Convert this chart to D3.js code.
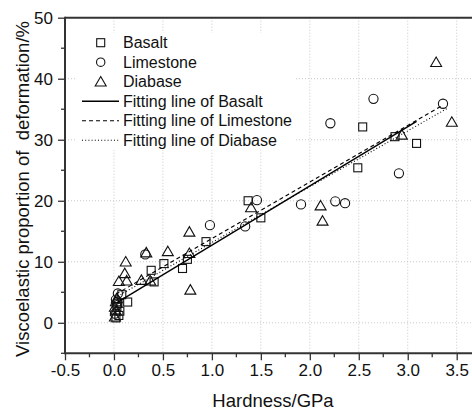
<!DOCTYPE html>
<html><head><meta charset="utf-8">
<script src="https://cdn.jsdelivr.net/npm/d3@7"></script>
<style>body{margin:0;background:#fff}svg{display:block}text{font-family:Arial,"Liberation Sans",sans-serif;fill:#111}</style>
</head><body><svg id="c" width="472" height="412"></svg>
<script>
const basalt = [[2.54,32.1],[2.87,30.5],[3.09,29.4],[2.49,25.4],[1.37,20.0],[1.50,17.2],[0.94,13.3],[0.75,10.4],[0.70,8.9],[0.51,9.7],[0.38,8.6],[0.41,6.7],[0.14,3.4],[0.08,4.6],[0.06,1.9],[0.02,0.8],[0.05,1.2],[0.03,2.6],[0.04,3.2]];
const limestone = [[2.65,36.7],[3.36,35.9],[2.21,32.7],[2.91,24.5],[1.91,19.4],[2.26,19.9],[2.36,19.6],[1.46,20.1],[1.34,15.8],[0.98,16.0],[0.32,11.2],[0.04,4.8],[0.02,3.8],[0.03,2.9],[0.01,1.5]];
const diabase = [[3.29,42.7],[3.45,32.9],[2.94,30.8],[2.11,19.2],[2.13,16.7],[1.40,18.9],[0.77,14.9],[0.77,11.4],[0.78,5.4],[0.55,11.7],[0.33,11.5],[0.12,10.0],[0.11,8.1],[0.13,6.9],[0.05,6.8],[0.28,7.0],[0.37,6.9],[0.01,1.0],[0.02,2.0],[0.01,2.6],[0.02,3.5],[0.03,4.0]];
const fitBasalt = [[0.03,3.3],[3.09,33.0]];
const fitLimestone = [[0.02,4.7],[3.34,35.5]];
const fitDiabase = [[0.01,4.1],[3.41,35.2]];
const xTicks = [-0.5,0,0.5,1,1.5,2,2.5,3,3.5];
const yTicks = [0,10,20,30,40,50];
const legendLabels = ["Basalt","Limestone","Diabase","Fitting line of Basalt","Fitting line of Limestone","Fitting line of Diabase"];
const xTitle = "Hardness/GPa";
const yTitle = "Viscoelastic proportion of\u00a0 deformation/%";

const svg = d3.select("#c");
const W = 472;
const x = d3.scaleLinear().domain([-0.5,3.5]).range([65,456.7]);
const y = d3.scaleLinear().domain([-5,50]).range([353.3,17.7]);
const axisColor = "#333";

// grid
const grid = svg.append("g").attr("stroke","#c8c8c8").attr("stroke-width",1).attr("stroke-dasharray","1,2");
xTicks.filter(v=>v>-0.5).forEach(v=>grid.append("line").attr("x1",x(v)).attr("x2",x(v)).attr("y1",y(50)).attr("y2",y(-5)));
yTicks.filter(v=>v<50).forEach(v=>grid.append("line").attr("x1",x(-0.5)).attr("x2",W).attr("y1",y(v)).attr("y2",y(v)));

// legend background
svg.append("rect").attr("x",77).attr("y",33).attr("width",218).attr("height",117).attr("fill","#fff");

// axes
const xAxis = d3.axisBottom(x).tickValues(xTicks).tickSize(7).tickPadding(4).tickFormat(d=>d3.format(".1f")(d).replace("\u2212","-"));
const gx = svg.append("g").attr("transform",`translate(0,${y(-5)})`).call(xAxis);
gx.select(".domain").remove();
gx.selectAll(".tick line").attr("stroke",axisColor).attr("stroke-width",1.3);
gx.selectAll("text").attr("font-size",17).attr("fill","#111").attr("font-family","Arial, 'Liberation Sans', sans-serif");
const xMinor = d3.range(-0.25,3.7,0.5);
svg.append("g").selectAll("line").data(xMinor).join("line").attr("x1",d=>x(d)).attr("x2",d=>x(d)).attr("y1",y(-5)).attr("y2",y(-5)+4).attr("stroke",axisColor).attr("stroke-width",1.3);

const yAxis = d3.axisLeft(y).tickValues(yTicks).tickSize(7).tickPadding(5).tickFormat(d3.format("d"));
const gy = svg.append("g").attr("transform",`translate(${x(-0.5)},0)`).call(yAxis);
gy.select(".domain").remove();
gy.selectAll(".tick line").attr("stroke",axisColor).attr("stroke-width",1.3);
gy.selectAll("text").attr("font-size",17).attr("fill","#111").attr("font-family","Arial, 'Liberation Sans', sans-serif");
const yMinor = [-5,5,15,25,35,45];
svg.append("g").selectAll("line").data(yMinor).join("line").attr("x1",x(-0.5)-4).attr("x2",x(-0.5)).attr("y1",d=>y(d)).attr("y2",d=>y(d)).attr("stroke",axisColor).attr("stroke-width",1.3);

// frame lines
svg.append("line").attr("x1",x(-0.5)).attr("x2",W).attr("y1",y(-5)).attr("y2",y(-5)).attr("stroke",axisColor).attr("stroke-width",2);
svg.append("line").attr("x1",x(-0.5)).attr("x2",W).attr("y1",y(50)).attr("y2",y(50)).attr("stroke",axisColor).attr("stroke-width",2);
svg.append("line").attr("x1",x(-0.5)).attr("x2",x(-0.5)).attr("y1",y(50)-1).attr("y2",y(-5)+1).attr("stroke",axisColor).attr("stroke-width",2);

// markers
const sq = 8, r = 4.6, tw = 11, th = 9.5;
const triPath = (cx,cy)=>`M${cx},${cy-th*0.55}L${cx+tw/2},${cy+th*0.45}L${cx-tw/2},${cy+th*0.45}Z`;
const mk = svg.append("g").attr("fill","none").attr("stroke","#111").attr("stroke-width",1.1);
mk.selectAll(".sq").data(basalt).join("rect").attr("x",d=>x(d[0])-sq/2).attr("y",d=>y(d[1])-sq/2).attr("width",sq).attr("height",sq);
mk.selectAll(".ci").data(limestone).join("circle").attr("cx",d=>x(d[0])).attr("cy",d=>y(d[1])).attr("r",r);
mk.selectAll(".tr").data(diabase).join("path").attr("d",d=>triPath(x(d[0]),y(d[1])));

// fitting lines
const line = d3.line().x(d=>x(d[0])).y(d=>y(d[1]));
svg.append("path").datum(fitBasalt).attr("d",line).attr("fill","none").attr("stroke","#000").attr("stroke-width",1.4);
svg.append("path").datum(fitLimestone).attr("d",line).attr("fill","none").attr("stroke","#000").attr("stroke-width",1.1).attr("stroke-dasharray","4,3");
svg.append("path").datum(fitDiabase).attr("d",line).attr("fill","none").attr("stroke","#000").attr("stroke-width",1.1).attr("stroke-dasharray","1,2.2");

// legend
const lg = svg.append("g");
const ly0 = 42.7, ldy = 19.5, lsx = 100.7, ltx = 123;
legendLabels.forEach((t,i)=>{
  const cy = ly0 + i*ldy;
  lg.append("text").attr("x",ltx).attr("y",cy).attr("dy","0.36em").attr("font-size",16).text(t);
});
lg.append("rect").attr("x",lsx-4).attr("y",ly0-4).attr("width",8).attr("height",8).attr("fill","none").attr("stroke","#111").attr("stroke-width",1.1);
lg.append("circle").attr("cx",lsx).attr("cy",ly0+ldy).attr("r",4.2).attr("fill","none").attr("stroke","#111").attr("stroke-width",1.1);
lg.append("path").attr("d",triPath(lsx,ly0+2*ldy)).attr("fill","none").attr("stroke","#111").attr("stroke-width",1.1);
const dashes = [null,"4,3","1,2.2"];
dashes.forEach((da,i)=>{
  const l = lg.append("line").attr("x1",82).attr("x2",119).attr("y1",ly0+(3+i)*ldy).attr("y2",ly0+(3+i)*ldy).attr("stroke","#000").attr("stroke-width",da?1.1:1.4);
  if(da) l.attr("stroke-dasharray",da);
});

// titles
svg.append("text").attr("x",273).attr("y",407).attr("text-anchor","middle").attr("font-size",18.5).text(xTitle);
svg.append("text").attr("transform","translate(29,189) rotate(-90)").attr("text-anchor","middle").attr("font-size",18.5).text(yTitle);
</script></body></html>
